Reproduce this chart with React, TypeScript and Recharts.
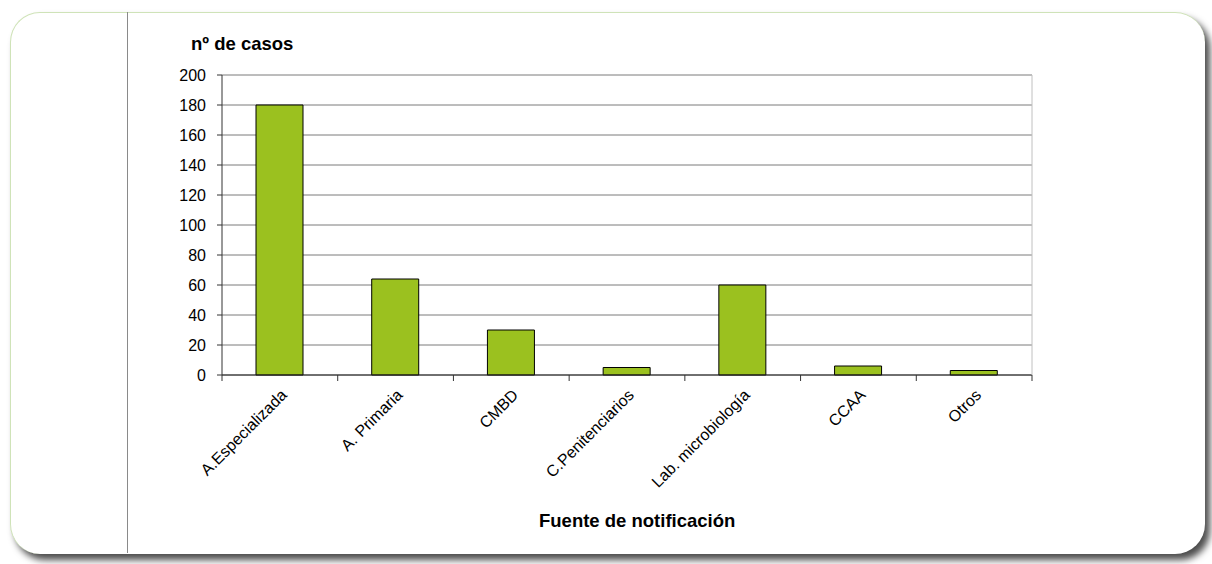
import React from 'react';
import { BarChart, Bar, XAxis, YAxis, CartesianGrid } from 'recharts';

const categories = [
  'A.Especializada',
  'A. Primaria',
  'CMBD',
  'C.Penitenciarios',
  'Lab. microbiología',
  'CCAA',
  'Otros',
];
const casos = [180, 64, 30, 5, 60, 6, 3];
const yTicks = [0, 20, 40, 60, 80, 100, 120, 140, 160, 180, 200];

const data = categories.map((name, i) => ({ name, casos: casos[i] }));

const FONT = '"Liberation Sans", Arial, sans-serif';

// label rotated 45deg plus tick marks at the category edges (Excel style)
function SlantTick(props: any) {
  const { x, y, payload, index, visibleTicksCount } = props;
  const count = visibleTicksCount || categories.length;
  const w = Number(props.width) || 810;
  const half = w / count / 2;
  const last = index === count - 1;
  return (
    <g>
      <line x1={x - half} y1={y} x2={x - half} y2={y + 6} stroke="#333" />
      {last && <line x1={x + half} y1={y} x2={x + half} y2={y + 6} stroke="#333" />}
      <g transform={`translate(${x + 8},${y + 21})`}>
        <text
          x={0}
          y={0}
          textAnchor="end"
          transform="rotate(-45)"
          fontSize={16}
          fontFamily={FONT}
          fill="#000"
        >
          {payload.value}
        </text>
      </g>
    </g>
  );
}

function App() {
  return (
    <div style={{ position: 'fixed', left: 0, top: 0, width: 1212, height: 564, background: '#fff', overflow: 'hidden' }}>
      {/* panel */}
      <div
        style={{
          position: 'absolute',
          left: 10,
          top: 12,
          width: 1194,
          height: 541,
          borderRadius: 30,
          background: '#fff',
          borderTop: '1px solid #cfe3b8',
          borderLeft: '1px solid #cfe3b8',
          boxShadow: '5px 6px 7px rgba(0,0,0,0.7)',
        }}
      />
      <div style={{ position: 'absolute', left: 127, top: 12, width: 1, height: 541, background: '#8a8a8a' }} />

      <div style={{ position: 'absolute', left: 0, top: 0 }}>
        <BarChart
          width={1212}
          height={564}
          data={data}
          margin={{ top: 75, right: 179, bottom: 88, left: 172 }}
          barSize={47}
        >
          <CartesianGrid xAxisId="cat" yAxisId="left" horizontal vertical={false} stroke="#7a7a7a" strokeWidth={1} />
          <XAxis
            xAxisId="cat"
            dataKey="name"
            interval={0}
            tickLine={false}
            tickSize={0}
            tickMargin={0}
            axisLine={{ stroke: '#222' }}
            tick={<SlantTick />}
            height={101}
          />
          <YAxis
            yAxisId="left"
            domain={[0, 200]}
            ticks={yTicks}
            interval={0}
            width={50}
            tickSize={5}
            tickMargin={11}
            tickLine={{ stroke: '#333' }}
            axisLine={{ stroke: '#333' }}
            tick={{ fontSize: 16, fontFamily: FONT, fill: '#000' }}
          />
          <YAxis
            yAxisId="right"
            orientation="right"
            domain={[0, 200]}
            tick={false}
            tickLine={false}
            axisLine={{ stroke: '#c0c0c0' }}
            width={1}
          />
          <Bar
            xAxisId="cat"
            yAxisId="left"
            dataKey="casos"
            fill="#9BC11F"
            stroke="#000"
            strokeWidth={1}
            isAnimationActive={false}
          />
        </BarChart>
      </div>

      <div
        style={{
          position: 'absolute',
          left: 191,
          top: 33,
          fontFamily: FONT,
          fontWeight: 'bold',
          fontSize: 18.5,
          color: '#000',
          whiteSpace: 'nowrap',
        }}
      >
        nº de casos
      </div>
      <div
        style={{
          position: 'absolute',
          left: 539,
          top: 510,
          fontFamily: FONT,
          fontWeight: 'bold',
          fontSize: 18.5,
          color: '#000',
          whiteSpace: 'nowrap',
        }}
      >
        Fuente de notificación
      </div>
    </div>
  );
}

export default App;
